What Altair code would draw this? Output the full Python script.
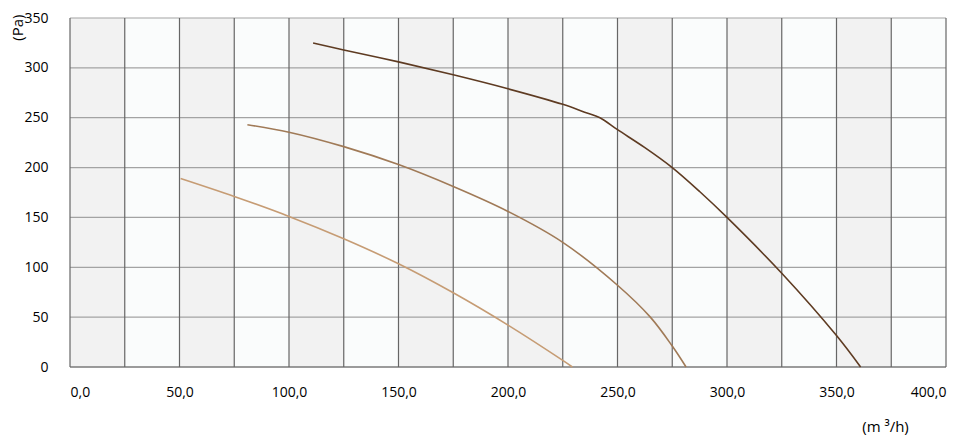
import altair as alt
import pandas as pd

# Curve data (airflow m3/h, pressure Pa)
curve1_x = [111, 125, 150, 175, 200, 225, 235, 242, 250, 262.5, 275, 287.5, 300, 325, 350, 361]
curve1_y = [325, 318, 306, 293, 279, 263.4, 255.5, 250, 238, 220, 200, 176, 150, 94, 31.5, 0]
curve2_x = [81, 100, 125, 150, 175, 200, 225, 250, 265, 275, 281.3]
curve2_y = [243, 235.5, 221, 203, 181, 156, 125, 82, 50, 21, 0]
curve3_x = [50.5, 75, 100, 125, 150, 175, 200, 225, 229.4]
curve3_y = [189, 171, 151, 128.6, 103.5, 74.4, 42, 6.6, 0]

x_ticks = [0, 50, 100, 150, 200, 250, 300, 350, 400]
y_ticks = [0, 50, 100, 150, 200, 250, 300, 350]
x_grid = [0, 25, 50, 75, 100, 125, 150, 175, 200, 225, 250, 275, 300, 325, 350, 375, 400]
band_starts = [0, 25, 50, 75, 100, 125, 150, 175, 200, 225, 250, 275, 300, 325, 350, 375]

rows = []
for name, xs, ys in [("c1", curve1_x, curve1_y), ("c2", curve2_x, curve2_y), ("c3", curve3_x, curve3_y)]:
    for i, (a, b) in enumerate(zip(xs, ys)):
        rows.append({"curve": name, "q": a, "p": b, "o": i})
curves = pd.DataFrame(rows)

bands = pd.DataFrame({
    "x0": band_starts,
    "x1": [b + 25 for b in band_starts],
    "shade": ["g" if i % 2 == 0 else "w" for i in range(len(band_starts))],
})
vgrid = pd.DataFrame({"x": x_grid})
hgrid = pd.DataFrame({"y": y_ticks})

FONT = "Open Sans"
W, H = 876, 349
xscale = alt.Scale(domain=[0, 400], nice=False, zero=True)
yscale = alt.Scale(domain=[0, 350], nice=False, zero=True)

xaxis = alt.Axis(
    values=x_ticks, grid=False, domain=False, ticks=False,
    labelExpr="replace(format(datum.value, '.1f'), '.', ',')",
    labelFont=FONT, labelFontSize=14, labelColor="#000", labelPadding=18,
    title="(m ³/h)", titleFont=FONT, titleFontSize=15, titleFontWeight="normal",
    titleColor="#000", titleX=815, titleY=59, titleAnchor="middle", titleAlign="center",
    titleBaseline="middle",
)
yaxis = alt.Axis(
    values=y_ticks, grid=False, domain=False, ticks=False,
    labelFont=FONT, labelFontSize=14, labelColor="#000", labelPadding=22,
    labelBaseline="middle",
    title="(Pa)", titleFont=FONT, titleFontSize=15, titleFontWeight="normal",
    titleColor="#000", titleX=-53, titleY=-4, titleAngle=-90, titleAlign="right",
    titleBaseline="middle",
)

rects = alt.Chart(bands).mark_rect().encode(
    x=alt.X("x0:Q", scale=xscale, axis=xaxis),
    x2="x1:Q",
    y=alt.value(0),
    y2=alt.value(H),
    color=alt.Color("shade:N", scale=alt.Scale(domain=["g", "w"], range=["#f2f2f2", "#fafcfc"]), legend=None),
)

hrules = alt.Chart(hgrid).mark_rule(color="#a3a3a3", strokeWidth=1.2).encode(
    y=alt.Y("y:Q", scale=yscale, axis=yaxis),
)
vrules = alt.Chart(vgrid).mark_rule(color="#666666", strokeWidth=1.2).encode(
    x=alt.X("x:Q", scale=xscale),
)
bottom = alt.Chart(pd.DataFrame({"y": [0]})).mark_rule(color="#666666", strokeWidth=1.2).encode(
    y=alt.Y("y:Q", scale=yscale),
)

lines = alt.Chart(curves).mark_line(interpolate="catmull-rom", strokeWidth=1.6).encode(
    x=alt.X("q:Q", scale=xscale),
    y=alt.Y("p:Q", scale=yscale),
    order="o:Q",
    color=alt.Color("curve:N", scale=alt.Scale(domain=["c1", "c2", "c3"],
                                               range=["#5e3b22", "#a07a57", "#c69c74"]), legend=None),
    detail="curve:N",
)

chart = alt.layer(rects, hrules, vrules, bottom, lines).resolve_scale(color="independent").properties(
    width=W, height=H,
    autosize=alt.AutoSizeParams(type="none"),
    padding={"left": 62, "top": 10, "right": 10, "bottom": 70},
    background="white",
).configure_view(stroke=None)

chart.save("out.html", embed_options={"renderer": "svg", "actions": False})
